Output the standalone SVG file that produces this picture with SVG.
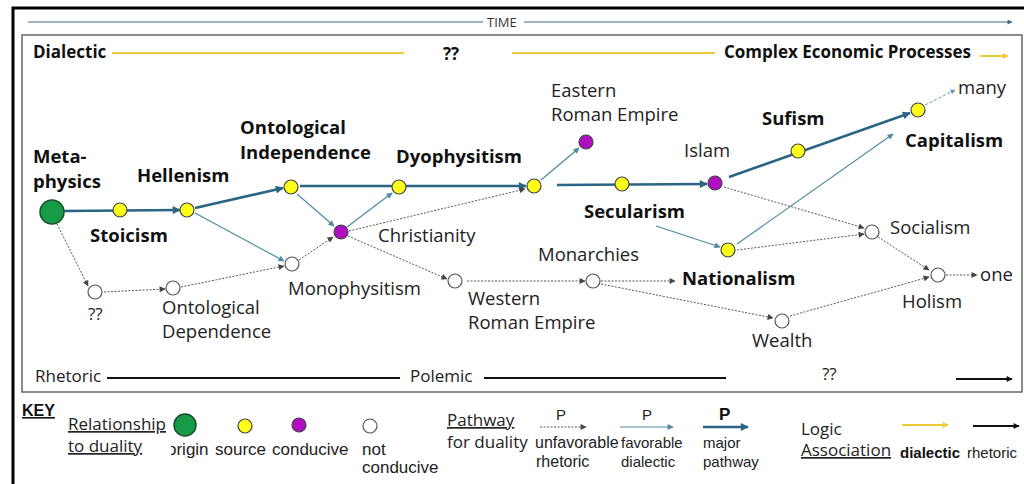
<svg xmlns="http://www.w3.org/2000/svg" width="1024" height="484" viewBox="0 0 1024 484">
<defs>
<style>
.lb{font-family:"Open Sans","Liberation Sans",sans-serif;font-size:18.5px;fill:#222}
.bd{font-family:"Open Sans","Liberation Sans",sans-serif;font-size:18.5px;font-weight:bold;fill:#111}
.hd{font-family:"Open Sans","Liberation Sans",sans-serif;font-size:17px;font-weight:bold;fill:#111}
.sm{font-family:"Open Sans","Liberation Sans",sans-serif;font-size:17px;fill:#222}
.ky{font-family:"Liberation Sans",Arial,sans-serif;font-size:15px;fill:#222}
.kl{font-family:"Liberation Sans",Arial,sans-serif;font-size:17px;fill:#222}
.kb{font-family:"Liberation Sans",Arial,sans-serif;font-size:15px;font-weight:bold;fill:#111}
.major{stroke:#2b6584;stroke-width:2.6;fill:none}
.fav{stroke:#4d8aa3;stroke-width:1.2;fill:none}
.unf{stroke:#555;stroke-width:1;stroke-dasharray:2 1.5;fill:none}
.yl{stroke:#f0c93a;stroke-width:2;fill:none}
.bl{stroke:#111;stroke-width:2;fill:none}
.org{fill:#179b48;stroke:#1d4d2a;stroke-width:1.5}
.src{fill:#ffff1a;stroke:#444;stroke-width:1.2}
.cnd{fill:#b10ec4;stroke:#444;stroke-width:1.2}
.not{fill:#fff;stroke:#555;stroke-width:1.2}
</style>
<clipPath id="clipO"><rect x="171" y="435" width="40" height="30"/></clipPath>
<marker id="aM" viewBox="0 0 10 10" refX="9" refY="5" markerWidth="10" markerHeight="8" markerUnits="userSpaceOnUse" orient="auto"><path d="M0,0L10,5L0,10z" fill="#2b6584"/></marker>
<marker id="aF" viewBox="0 0 10 10" refX="9" refY="5" markerWidth="7" markerHeight="6" markerUnits="userSpaceOnUse" orient="auto"><path d="M0,0L10,5L0,10z" fill="#4d8aa3"/></marker>
<marker id="aU" viewBox="0 0 10 10" refX="9" refY="5" markerWidth="7" markerHeight="6" markerUnits="userSpaceOnUse" orient="auto"><path d="M0,0L10,5L0,10z" fill="#444"/></marker>
<marker id="aY" viewBox="0 0 10 10" refX="9" refY="5" markerWidth="7" markerHeight="6" markerUnits="userSpaceOnUse" orient="auto"><path d="M0,0L10,5L0,10z" fill="#f0c93a"/></marker>
<marker id="aB" viewBox="0 0 10 10" refX="9" refY="5" markerWidth="7" markerHeight="6" markerUnits="userSpaceOnUse" orient="auto"><path d="M0,0L10,5L0,10z" fill="#111"/></marker>
<marker id="aT" viewBox="0 0 10 10" refX="9" refY="5" markerWidth="6" markerHeight="5" markerUnits="userSpaceOnUse" orient="auto"><path d="M0,0L10,5L0,10z" fill="#3d6a80"/></marker>
<marker id="aL" viewBox="0 0 10 10" refX="9" refY="5" markerWidth="6" markerHeight="5" markerUnits="userSpaceOnUse" orient="auto"><path d="M0,0L10,5L0,10z" fill="#5a9ab5"/></marker>
</defs>
<rect width="1024" height="484" fill="#fff"/>
<path d="M13,484V8H1024" stroke="#000" stroke-width="3" fill="none"/>
<rect x="22" y="35" width="1000" height="357" fill="none" stroke="#666" stroke-width="1.5"/>
<g id="time">
<line x1="28" y1="22" x2="483" y2="22" stroke="#3d6a80" stroke-width="1.2"/>
<text x="487" y="27" font-family="Open Sans,Liberation Sans,sans-serif" font-size="13" fill="#333">TIME</text>
<line x1="524" y1="22" x2="1012" y2="22" stroke="#3d6a80" stroke-width="1.2" marker-end="url(#aT)"/>
</g>
<g id="bands">
<text class="hd" x="33" y="58">Dialectic</text>
<line class="yl" x1="112" y1="53" x2="404" y2="53"/>
<text class="hd" x="443" y="60">??</text>
<line class="yl" x1="512" y1="53" x2="715" y2="53"/>
<text class="hd" x="724" y="58">Complex Economic Processes</text>
<line class="yl" x1="980" y1="56" x2="1008" y2="56" marker-end="url(#aY)"/>
<text class="sm" x="35" y="382">Rhetoric</text>
<line class="bl" x1="107" y1="378" x2="400" y2="378"/>
<text class="sm" x="410" y="382">Polemic</text>
<line class="bl" x1="484" y1="378" x2="726" y2="378"/>
<text class="sm" x="822" y="380">??</text>
<line class="bl" x1="956" y1="379" x2="1012" y2="379" marker-end="url(#aB)"/>
</g>
<g id="connectors">
<line class="major" x1="64" y1="211" x2="180" y2="210" marker-end="url(#aM)"/>
<line class="major" x1="195" y1="208" x2="283" y2="188" marker-end="url(#aM)"/>
<line class="major" x1="300" y1="186" x2="526" y2="186" marker-end="url(#aM)"/>
<line class="major" x1="557" y1="185" x2="707" y2="184" marker-end="url(#aM)"/>
<line class="major" x1="729" y1="177" x2="910" y2="113" marker-end="url(#aM)"/>
<line class="fav" x1="195" y1="213" x2="284" y2="261" marker-end="url(#aF)"/>
<line class="fav" x1="297" y1="194" x2="334" y2="226" marker-end="url(#aF)"/>
<line class="fav" x1="347" y1="227" x2="392" y2="193" marker-end="url(#aF)"/>
<line class="fav" x1="541" y1="180" x2="579" y2="148" marker-end="url(#aF)"/>
<line class="fav" x1="656" y1="226" x2="720" y2="247" marker-end="url(#aF)"/>
<line class="fav" x1="737" y1="244" x2="893" y2="134" marker-end="url(#aF)"/>
<line class="unf" x1="57" y1="224" x2="88" y2="286" marker-end="url(#aU)"/>
<line class="unf" x1="104" y1="292" x2="165" y2="289" marker-end="url(#aU)"/>
<line class="unf" x1="181" y1="287" x2="284" y2="266" marker-end="url(#aU)"/>
<line class="unf" x1="299" y1="260" x2="333" y2="237" marker-end="url(#aU)"/>
<line class="unf" x1="349" y1="231" x2="525" y2="189" marker-end="url(#aU)"/>
<line class="unf" x1="348" y1="236" x2="447" y2="279" marker-end="url(#aU)"/>
<line class="unf" x1="467" y1="281" x2="585" y2="281" marker-end="url(#aU)"/>
<line class="unf" x1="601" y1="281" x2="675" y2="281" marker-end="url(#aU)"/>
<line class="unf" x1="601" y1="284" x2="773" y2="318" marker-end="url(#aU)"/>
<line class="unf" x1="724" y1="187" x2="864" y2="228" marker-end="url(#aU)"/>
<line class="unf" x1="737" y1="250" x2="864" y2="234" marker-end="url(#aU)"/>
<line class="unf" x1="878" y1="237" x2="929" y2="270" marker-end="url(#aU)"/>
<line class="unf" x1="790" y1="316" x2="929" y2="277" marker-end="url(#aU)"/>
<line class="unf" x1="946" y1="275" x2="977" y2="275" stroke-dasharray="3 2" marker-end="url(#aU)"/>
<line x1="925" y1="105" x2="955" y2="90" stroke="#5a9ab5" stroke-width="1" stroke-dasharray="3 2" marker-end="url(#aL)"/>
</g>
<g id="metaphysics"><circle class="org" cx="52" cy="212" r="12"/><text class="bd" x="33" y="163">Meta-</text><text class="bd" x="33" y="188">physics</text></g>
<g id="stoicism"><circle class="src" cx="120" cy="210" r="7"/><text class="bd" x="90" y="242">Stoicism</text></g>
<g id="hellenism"><circle class="src" cx="187" cy="210" r="7"/><text class="bd" x="137" y="182">Hellenism</text></g>
<g id="ont-independence"><circle class="src" cx="291" cy="187" r="7"/><text class="bd" x="240" y="134">Ontological</text><text class="bd" x="240" y="159">Independence</text></g>
<g id="dyophysitism"><circle class="src" cx="399" cy="187" r="7"/><text class="bd" x="396" y="163">Dyophysitism</text></g>
<g id="christianity"><circle class="cnd" cx="341" cy="232" r="7"/><text class="lb" x="378" y="242">Christianity</text></g>
<g id="monophysitism"><circle class="not" cx="292" cy="264" r="7"/><text class="lb" x="288" y="295">Monophysitism</text></g>
<g id="unknown"><circle class="not" cx="95" cy="292" r="7"/><text class="sm" x="88" y="320">??</text></g>
<g id="ont-dependence"><circle class="not" cx="173" cy="288" r="7"/><text class="lb" x="162" y="314">Ontological</text><text class="lb" x="162" y="338">Dependence</text></g>
<g id="western-roman"><circle class="not" cx="455" cy="281" r="7"/><text class="lb" x="468" y="305">Western</text><text class="lb" x="468" y="329">Roman Empire</text></g>
<g id="junction"><circle class="src" cx="534" cy="186" r="7"/></g>
<g id="eastern-roman"><circle class="cnd" cx="586" cy="142" r="7"/><text class="lb" x="551" y="97">Eastern</text><text class="lb" x="551" y="121">Roman Empire</text></g>
<g id="secularism"><circle class="src" cx="622" cy="184" r="7"/><text class="bd" x="584" y="218">Secularism</text></g>
<g id="islam"><circle class="cnd" cx="715" cy="183" r="7"/><text class="lb" x="684" y="157">Islam</text></g>
<g id="sufism"><circle class="src" cx="798" cy="151" r="7"/><text class="bd" x="762" y="125">Sufism</text></g>
<g id="capitalism"><circle class="src" cx="918" cy="110" r="7"/><text class="bd" x="905" y="147">Capitalism</text></g>
<g id="many"><text class="lb" x="958" y="94">many</text></g>
<g id="monarchies"><circle class="not" cx="593" cy="281" r="7"/><text class="lb" x="538" y="261">Monarchies</text></g>
<g id="nationalism"><circle class="src" cx="728" cy="250" r="7"/><text class="bd" x="682" y="285">Nationalism</text></g>
<g id="socialism"><circle class="not" cx="872" cy="232" r="7"/><text class="lb" x="890" y="234">Socialism</text></g>
<g id="holism"><circle class="not" cx="938" cy="275" r="7"/><text class="lb" x="902" y="308">Holism</text></g>
<g id="one"><text class="lb" x="980" y="281">one</text></g>
<g id="wealth"><circle class="not" cx="782" cy="321" r="7"/><text class="lb" x="752" y="347">Wealth</text></g>
<g id="key">
<text class="kb" x="22" y="416" style="font-size:16px" text-decoration="underline">KEY</text>
<text class="sm" x="68" y="430" text-decoration="underline">Relationship</text>
<text class="sm" x="68" y="452" text-decoration="underline">to duality</text>
<circle class="org" cx="185" cy="425" r="11"/>
<circle class="src" cx="245" cy="426" r="7"/>
<circle class="cnd" cx="299" cy="425" r="7"/>
<circle class="not" cx="370" cy="426" r="7"/>
<text class="kl" x="167" y="455" clip-path="url(#clipO)">origin</text>
<text class="kl" x="215" y="455">source</text>
<text class="kl" x="272" y="455">conducive</text>
<text class="kl" x="362" y="455">not</text>
<text class="kl" x="362" y="473">conducive</text>
<text class="sm" x="447" y="426" text-decoration="underline">Pathway</text>
<text class="sm" x="447" y="448">for duality</text>
<text class="ky" x="556" y="420">P</text>
<line class="unf" x1="540" y1="427" x2="586" y2="427" marker-end="url(#aU)"/>
<text class="ky" x="535" y="448" style="font-size:16px">unfavorable</text>
<text class="ky" x="536" y="467" style="font-size:16px">rhetoric</text>
<text class="ky" x="642" y="420">P</text>
<line class="fav" x1="620" y1="427" x2="673" y2="427" marker-end="url(#aF)"/>
<text class="ky" x="621" y="448">favorable</text>
<text class="ky" x="621" y="467">dialectic</text>
<text class="kb" x="719" y="420" style="font-size:17px">P</text>
<line class="major" x1="703" y1="427" x2="748" y2="427" marker-end="url(#aM)"/>
<text class="ky" x="703" y="448">major</text>
<text class="ky" x="703" y="467">pathway</text>
<text class="sm" x="801" y="435">Logic</text>
<text class="sm" x="801" y="456" text-decoration="underline">Association</text>
<line class="yl" x1="902" y1="425" x2="948" y2="425" marker-end="url(#aY)"/>
<text class="kb" x="900" y="458">dialectic</text>
<line class="bl" x1="973" y1="426" x2="1019" y2="426" marker-end="url(#aB)"/>
<text class="ky" x="967" y="458">rhetoric</text>
</g>
</svg>
